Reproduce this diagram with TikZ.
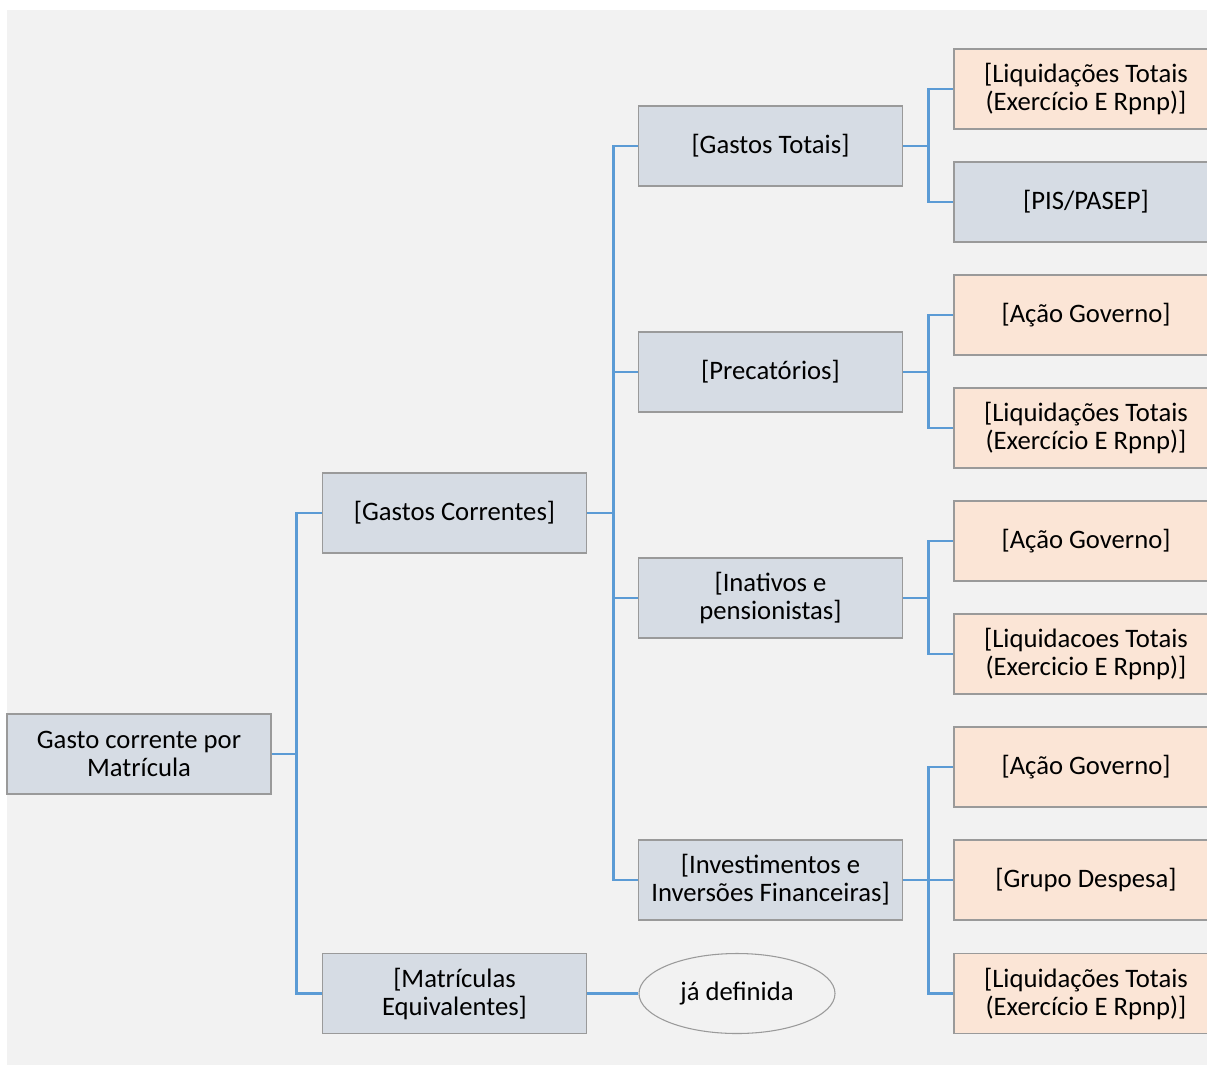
\documentclass[tikz,border=0pt]{standalone}
\usepackage{fontspec}
\setmainfont{Carlito}
\usetikzlibrary{shapes.geometric}
\definecolor{bgc}{HTML}{F2F2F2}
\definecolor{boxblue}{HTML}{D6DCE4}
\definecolor{boxpeach}{HTML}{FBE5D6}
\definecolor{linec}{HTML}{5B9BD5}
\definecolor{edgec}{HTML}{9A9A9A}
\begin{document}
\begin{tikzpicture}[x=0.75pt,y=-0.75pt,
  box/.style={draw=edgec, line width=0.8pt, minimum width=198pt, minimum height=60pt,
    align=center, font=\fontsize{20}{21}\selectfont, inner sep=0pt},
  bluebox/.style={box, fill=boxblue},
  peachbox/.style={box, fill=boxpeach},
  oval/.style={ellipse, draw=edgec, line width=0.8pt, fill=bgc, minimum width=147pt,
    minimum height=60pt, inner sep=0pt, font=\fontsize{20}{21}\selectfont},
  conn/.style={draw=linec, line width=2.2pt}]
\useasboundingbox (0,0) rectangle (1207,1065);
\fill[white] (0,0) rectangle (1207,1065);
\begin{scope}
\clip (0,0) rectangle (1207,1065);
\fill[bgc] (7,10) rectangle (1207,1065);
% level 0/1
\node[bluebox] (root) at (139,754) {Gasto corrente por\\Matrícula};
\node[bluebox] (gc) at (454.5,513) {[Gastos Correntes]};
\node[bluebox] (me) at (454.5,993.5) {[Matrículas\\Equivalentes]};
\node[oval] (ell) at (737,993.5) {já definida};
% level 2
\node[bluebox] (gt) at (770.5,146) {[Gastos Totais]};
\node[bluebox] (pr) at (770.5,372) {[Precatórios]};
\node[bluebox] (in) at (770.5,598) {[Inativos e\\pensionistas]};
\node[bluebox] (iv) at (770.5,880) {[Investimentos e\\Inversões Financeiras]};
% level 3
\node[peachbox] (a1) at (1086,89) {[Liquidações Totais\\(Exercício E Rpnp)]};
\node[bluebox] (a2) at (1086,202) {[PIS/PASEP]};
\node[peachbox] (b1) at (1086,315) {[Ação Governo]};
\node[peachbox] (b2) at (1086,428) {[Liquidações Totais\\(Exercício E Rpnp)]};
\node[peachbox] (c1) at (1086,541) {[Ação Governo]};
\node[peachbox] (c2) at (1086,654) {[Liquidacoes Totais\\(Exercicio E Rpnp)]};
\node[peachbox] (d1) at (1086,767) {[Ação Governo]};
\node[peachbox] (d2) at (1086,880) {[Grupo Despesa]};
\node[peachbox] (d3) at (1086,993.5) {[Liquidações Totais\\(Exercício E Rpnp)]};
% connectors
\draw[conn] (root.east) -- ++(25,0) |- (gc.west);
\draw[conn] (root.east) -- ++(25,0) |- (me.west);
\draw[conn] (me.east) -- (ell.west);
\foreach \t in {gt,pr,in,iv}
  \draw[conn] (gc.east) -- ++(26,0) |- (\t.west);
\foreach \t in {a1,a2} \draw[conn] (gt.east) -- ++(25,0) |- (\t.west);
\foreach \t in {b1,b2} \draw[conn] (pr.east) -- ++(25,0) |- (\t.west);
\foreach \t in {c1,c2} \draw[conn] (in.east) -- ++(25,0) |- (\t.west);
\foreach \t in {d1,d2,d3} \draw[conn] (iv.east) -- ++(25,0) |- (\t.west);
\end{scope}
\end{tikzpicture}
\end{document}
